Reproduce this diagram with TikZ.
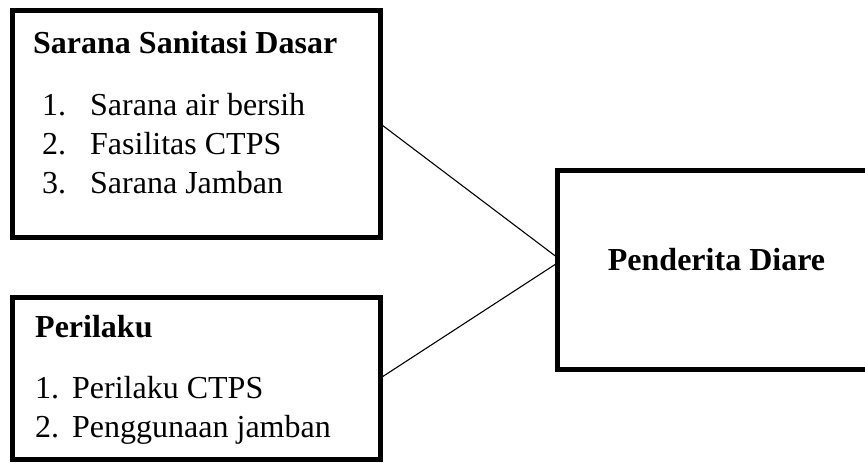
\documentclass[tikz,border=0pt]{standalone}
\usepackage{fontspec}
\setmainfont{Liberation Serif}
\begin{document}
\begin{tikzpicture}[x=1pt,y=-1pt,
  box/.style={draw=black,line width=5pt,rectangle,inner sep=0pt,outer sep=0pt},
  txt/.style={anchor=base west,inner sep=0pt,font=\fontsize{32}{38}\selectfont},
  btxt/.style={txt,font=\fontsize{32}{38}\selectfont\bfseries},
  link/.style={draw=black,line width=1.1pt}]
\useasboundingbox (0,0) rectangle (865,463);
\clip (0,0) rectangle (865,463);
\node[box,minimum width=367.5pt,minimum height=227pt] (sanitasi) at (196.25,123.5) {};
\node[box,minimum width=368pt,minimum height=162pt] (perilaku) at (196.5,378) {};
\node[box,minimum width=319pt,minimum height=199.5pt] (diare) at (716.5,269.75) {};
% texts
\node[btxt] (t1) at (33,53) {Sarana Sanitasi Dasar};
\node[txt] (t1a) at (42,115) {\makebox[48pt][l]{1.}Sarana air bersih};
\node[txt] (t1b) at (42,154) {\makebox[48pt][l]{2.}Fasilitas CTPS};
\node[txt] (t1c) at (42,193) {\makebox[48pt][l]{3.}Sarana Jamban};
\node[btxt] (t2) at (35,337) {Perilaku};
\node[txt] (t2a) at (35,398) {\makebox[37pt][l]{1.}Perilaku CTPS};
\node[txt] (t2b) at (35,437) {\makebox[37pt][l]{2.}Penggunaan jamban};
\node[btxt,anchor=base] (t3) at (716.5,270) {Penderita Diare};
% connectors
\coordinate (in1) at ([yshift=12.5pt]diare.west);
\coordinate (in2) at ([yshift=6.5pt]diare.west);
\draw[link] (sanitasi.east) -- (in1);
\draw[link] (perilaku.east) -- (in2);
\end{tikzpicture}
\end{document}
